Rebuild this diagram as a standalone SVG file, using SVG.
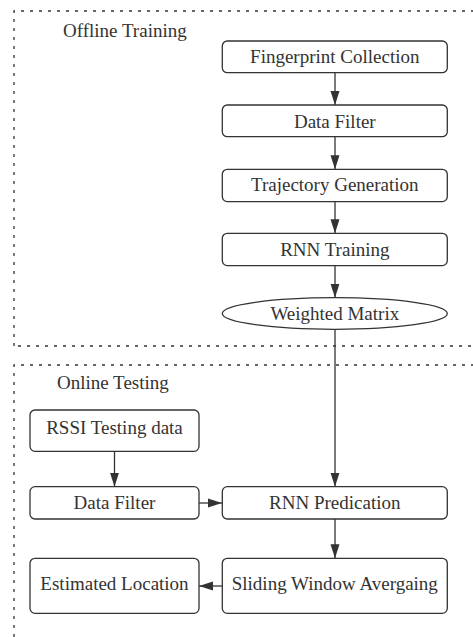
<svg xmlns="http://www.w3.org/2000/svg" width="473" height="637" viewBox="0 0 473 637">
<style>
.frame{fill:none;stroke:#333;stroke-width:1.3;stroke-dasharray:3 6}
.box{fill:#fff;stroke:#333;stroke-width:1.3}
.t{font-size:19px;fill:#333;text-anchor:middle}
.lbl{font-size:19px;fill:#333}
.c{fill:none;stroke:#333;stroke-width:1.3}
</style>
<defs>
<marker id="ah" viewBox="0 0 14 10" refX="14" refY="5" markerWidth="14" markerHeight="10" markerUnits="userSpaceOnUse" orient="auto">
<path d="M0,0.5 L14,5 L0,9.5 Z" fill="#333"/>
</marker>
</defs>
<g font-family="'Liberation Serif', 'DejaVu Serif', serif">
<g id="offline-group">
<path class="frame" d="M14,346 L14,11 L473,11"/>
<path class="frame" d="M18,346 L473,346"/>
<text class="lbl" x="63" y="37">Offline Training</text>
</g>
<g id="online-group">
<path class="frame" d="M14,637 L14,365 L473,365"/>
<text class="lbl" x="57" y="389">Online Testing</text>
</g>
<g id="connectors">
<line class="c" x1="335" y1="72.7" x2="335" y2="105" marker-end="url(#ah)"/>
<line class="c" x1="335" y1="136.7" x2="335" y2="169.3" marker-end="url(#ah)"/>
<line class="c" x1="335" y1="201.7" x2="335" y2="233.3" marker-end="url(#ah)"/>
<line class="c" x1="335" y1="265.7" x2="335" y2="297.7" marker-end="url(#ah)"/>
<line class="c" x1="335" y1="329.3" x2="335" y2="486.7" marker-end="url(#ah)"/>
<line class="c" x1="114.5" y1="451.3" x2="114.5" y2="486.7" marker-end="url(#ah)"/>
<line class="c" x1="199" y1="503" x2="222" y2="503" marker-end="url(#ah)"/>
<line class="c" x1="335" y1="519" x2="335" y2="558.3" marker-end="url(#ah)"/>
<line class="c" x1="222" y1="586" x2="199" y2="586" marker-end="url(#ah)"/>
</g>
<g id="fingerprint-collection">
<rect class="box" x="222.3" y="41" width="225" height="31.7" rx="5"/>
<text class="t" x="334.8" y="63.3">Fingerprint Collection</text>
</g>
<g id="data-filter-offline">
<rect class="box" x="222.3" y="105" width="225" height="31.7" rx="5"/>
<text class="t" x="334.8" y="127.7">Data Filter</text>
</g>
<g id="trajectory-generation">
<rect class="box" x="222.3" y="169.3" width="225" height="32.3" rx="5"/>
<text class="t" x="334.8" y="191.3">Trajectory Generation</text>
</g>
<g id="rnn-training">
<rect class="box" x="222.3" y="233.3" width="225" height="32.3" rx="5"/>
<text class="t" x="334.8" y="256">RNN Training</text>
</g>
<g id="weighted-matrix">
<ellipse class="box" cx="334.8" cy="313.5" rx="112.5" ry="15.8"/>
<text class="t" x="334.8" y="319.5">Weighted Matrix</text>
</g>
<g id="rssi-testing-data">
<rect class="box" x="30" y="410" width="169" height="41.3" rx="5"/>
<text class="t" x="114.5" y="434">RSSI Testing data</text>
</g>
<g id="data-filter-online">
<rect class="box" x="30" y="486.7" width="169" height="32.3" rx="5"/>
<text class="t" x="114.5" y="508.5">Data Filter</text>
</g>
<g id="rnn-predication">
<rect class="box" x="222.3" y="486.7" width="225" height="32.3" rx="5"/>
<text class="t" x="334.8" y="508.5">RNN Predication</text>
</g>
<g id="sliding-window-averaging">
<rect class="box" x="222.3" y="558.3" width="225" height="55" rx="5"/>
<text class="t" x="334.8" y="590">Sliding Window Avergaing</text>
</g>
<g id="estimated-location">
<rect class="box" x="30" y="558.3" width="169" height="55" rx="5"/>
<text class="t" x="114.5" y="590">Estimated Location</text>
</g>
</g>
</svg>
